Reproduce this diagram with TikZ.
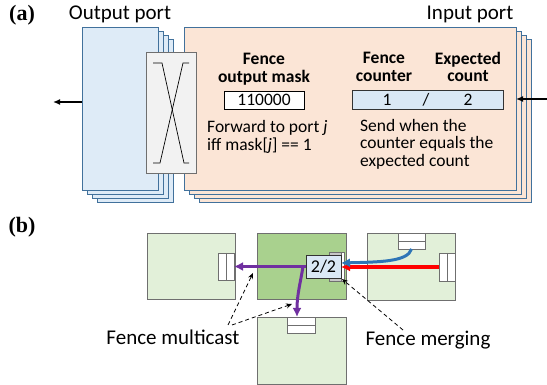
\documentclass[tikz,border=0pt]{standalone}
\usepackage{fontspec}
\setmainfont{Carlito}
\newfontfamily\labfont{Liberation Serif}
\usetikzlibrary{arrows.meta}
\definecolor{portblue}{HTML}{DEEBF7}
\definecolor{portorange}{HTML}{FBE5D6}
\definecolor{portedge}{HTML}{41719C}
\definecolor{xbarfill}{HTML}{F2F2F2}
\definecolor{lgreen}{HTML}{E2F0D9}
\definecolor{dgreen}{HTML}{A9D18E}
\definecolor{boxedge}{HTML}{6F6F6F}
\definecolor{cntfill}{HTML}{DAE8F5}
\definecolor{purp}{HTML}{7030A0}
\definecolor{blu}{HTML}{2E75B6}
\definecolor{rd}{HTML}{FF0000}
\begin{document}
\begin{tikzpicture}[x=1pt,y=-1pt,
  rbox/.style={inner sep=0pt, outer sep=0pt, anchor=north west},
  bport/.style={rbox, draw=portedge, fill=portblue, line width=0.8pt},
  oport/.style={rbox, draw=portedge, fill=portorange, line width=0.8pt},
  sw/.style={rbox, draw=boxedge, fill=lgreen, line width=0.8pt},
  swc/.style={rbox, draw=boxedge, fill=dgreen, line width=0.8pt},
  buf/.style={rbox, draw=boxedge, fill=white, line width=0.7pt},
  hdr/.style={font=\fontsize{21}{25}\selectfont, inner sep=0pt},
  txt/.style={font=\fontsize{17.5}{17.5}\selectfont, inner sep=0pt},
  btxt/.style={font=\fontsize{17.5}{17.5}\selectfont\bfseries, inner sep=0pt, align=center},
  lab/.style={font=\fontsize{22}{24}\selectfont\labfont\bfseries, inner sep=0pt},
  blk/.style={-{Latex[length=7pt,width=6pt]}, line width=1.3pt},
  dsh/.style={-{Stealth[length=6pt,width=5pt]}, line width=0.8pt, dash pattern=on 4pt off 3pt},
  thickarr/.style={line width=3pt, -{Latex[length=9pt,width=9pt]}}
]
\useasboundingbox (0,0) rectangle (547,385);

% ---------- panel (a) ----------
\node[lab] (la) at (22,15) {(a)};
\node[hdr] (hout) at (120,14) {Output port};
\node[hdr] (hin) at (470,14) {Input port};

% output port stack
\foreach \i in {3,2,1}
  \node[bport, minimum width=76pt, minimum height=163pt] (outp\i) at ({82+5*\i},{27+4*\i}) {};
\node[bport, minimum width=76pt, minimum height=163pt] (outp) at (82,27) {};

% input port stack
\foreach \i in {3,2,1}
  \node[oport, minimum width=332pt, minimum height=163pt] (inp\i) at ({184+5*\i},{27+4*\i}) {};
\node[oport, minimum width=332pt, minimum height=163pt] (inp) at (184,27) {};

% crossbar
\node[rbox, draw=boxedge, fill=xbarfill, line width=0.8pt, minimum width=50pt, minimum height=121pt] (xbar) at (146,52) {};
\draw[line width=0.7pt] (153,63) -- (162,63) -- (184,163) -- (189,163);
\draw[line width=0.7pt] (189,63) -- (183,63) -- (160,163) -- (153,163);

% texts in input port
\node[btxt] (tmask) at (264,69) {Fence\\output mask};
\node[btxt] (tcnt) at (384,67) {Fence\\counter};
\node[btxt] (texp) at (468,67) {Expected\\count};

\node[rbox, draw=black, fill=white, line width=0.8pt, minimum width=80pt, minimum height=18pt] (mask) at (224,91) {};
\node[txt] at (mask.center) {110000};

\node[rbox, draw=black!80, fill=cntfill, line width=0.8pt, minimum width=151pt, minimum height=19pt] (cntbox) at (352,90) {};
\node[txt] (c1) at (387,100) {1};
\node[txt] (cs) at (426,100) {/};
\node[txt] (c2) at (468,100) {2};

\node[txt, align=left, anchor=west] (tfwd) at (207,137) {Forward to port \textit{j}\\iff mask[\textit{j}] == 1};
\node[txt, align=left, anchor=west] (tsend) at (360,144) {Send when the\\counter equals the\\expected count};

% port arrows
\coordinate (aL) at (53,102);
\coordinate (aR) at (547,99);
\draw[blk] (outp.west |- aL) -- (aL);
\draw[blk] (aR) -- (inp.east |- aR);

% ---------- panel (b) ----------
\node[lab] (lb) at (22,227) {(b)};

\node[sw, minimum width=88pt, minimum height=66pt] (L) at (147,233) {};
\node[swc, minimum width=89pt, minimum height=66pt] (C) at (257,233) {};
\node[sw, minimum width=88pt, minimum height=67pt] (R) at (367,233) {};
\node[sw, minimum width=89pt, minimum height=67pt] (B) at (257,317) {};

% buffers
\node[buf, minimum width=16pt, minimum height=27pt] (Lbuf) at (218,253) {};
\draw[boxedge, line width=0.7pt] (Lbuf.north) -- (Lbuf.south);
\node[buf, minimum width=27pt, minimum height=16pt] (Rtop) at (398,233) {};
\draw[boxedge, line width=0.7pt] (Rtop.west) -- (Rtop.east);
\node[buf, minimum width=16pt, minimum height=28pt] (Rside) at (439,253) {};
\draw[boxedge, line width=0.7pt] (Rside.north) -- (Rside.south);
\node[buf, minimum width=28pt, minimum height=16pt] (Bbuf) at (287,317) {};
\draw[boxedge, line width=0.7pt] (Bbuf.west) -- (Bbuf.east);
\node[buf, fill=black!22, minimum width=15pt, minimum height=29pt] (Cbuf) at (329,252) {};
\node[rbox, fill=white, draw=boxedge, line width=0.5pt, minimum width=3pt, minimum height=29pt] (Cbufr) at (341,252) {};

% counter 2/2
\node[rbox, draw=black!80, fill=cntfill, line width=0.8pt, minimum width=35pt, minimum height=23pt] (cnt) at (306,255) {};
\node[font=\fontsize{18}{18}\selectfont, inner sep=0pt] at (cnt.center) {2/2};

% colored arrows
\draw[thickarr, rd, line width=3.5pt] (Rside.west) -- (Rside.west -| cnt.east);
\draw[thickarr, blu] (Rtop.south) .. controls (408,262) and (378,262) .. ([yshift=3.5pt]cnt.east);
\draw[thickarr, purp] (cnt.west) -- (Lbuf.east);
\coordinate (br) at (303,266.5);
\draw[thickarr, purp] (br) .. controls (300,285) and (297,295) .. ([xshift=-4pt]Bbuf.north);

% labels and dashed pointers
\node[hdr] (fmc) at (173,337) {Fence multicast};
\node[hdr] (fmg) at (428,340) {Fence merging};
\coordinate (m1s) at (228,325);
\coordinate (m1e) at (253,273);
\coordinate (m2s) at (232,325);
\coordinate (m2e) at (292,304);
\coordinate (mgs) at (403,330);
\coordinate (mge) at (342,279);
\draw[dsh] (m1s) -- (m1e);
\draw[dsh] (m2s) -- (m2e);
\draw[dsh] (mgs) -- (mge);
\end{tikzpicture}
\end{document}
